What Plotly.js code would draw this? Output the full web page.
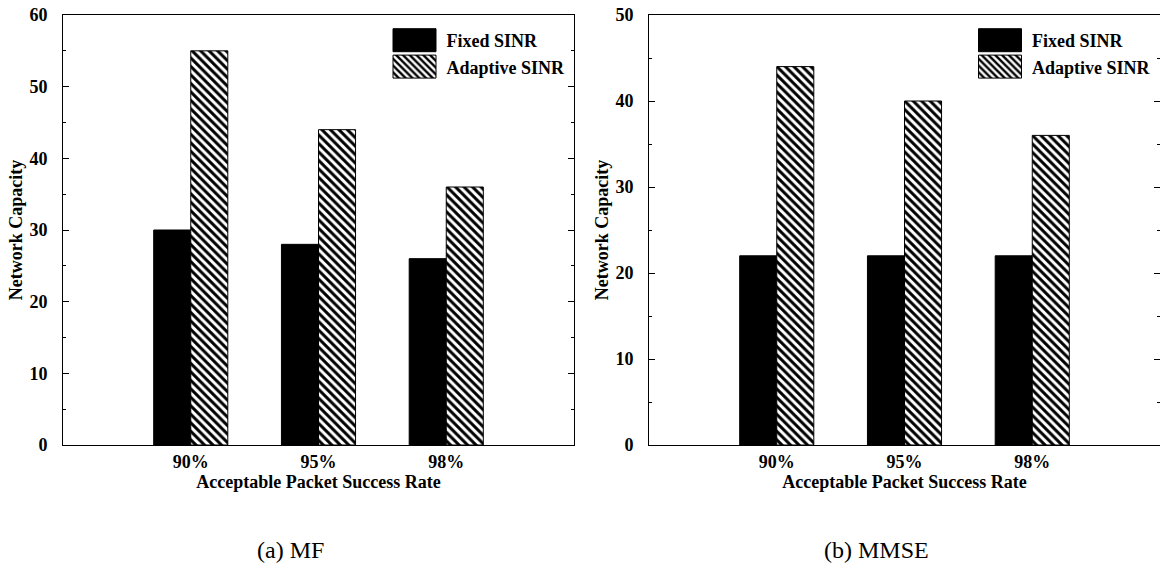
<!DOCTYPE html>
<html><head><meta charset="utf-8">
<script src="https://cdn.plot.ly/plotly-3.0.1.min.js"></script>
<style>html,body{margin:0;padding:0;background:#fff}#chart{width:1160px;height:571px}</style>
</head><body><div id="chart"></div>
<script>
const categories = ["90%", "95%", "98%"];
const mfFixed = [30, 28, 26];
const mfAdaptive = [55, 44, 36];
const mmseFixed = [22, 22, 22];
const mmseAdaptive = [44, 40, 36];
const seriesNames = ["Fixed SINR", "Adaptive SINR"];
const captions = ["(a) MF", "(b) MMSE"];

const FONT = "Liberation Serif";
const hatch = {shape: "\\", fgcolor: "#000", bgcolor: "#fff", size: 6, solidity: 0.5};

function fixedTrace(y, xa, ya, leg) {
  return {type: "bar", x: categories, y: y, name: seriesNames[0], xaxis: xa, yaxis: ya, legend: leg,
    marker: {color: "#000", line: {color: "#000", width: 1}}, hoverinfo: "skip"};
}
function adaptTrace(y, xa, ya, leg) {
  return {type: "bar", x: categories, y: y, name: seriesNames[1], xaxis: xa, yaxis: ya, legend: leg,
    marker: {color: "#fff", pattern: hatch, line: {color: "#000", width: 1}}, hoverinfo: "skip"};
}

const data = [
  fixedTrace(mfFixed, "x", "y", "legend"),
  adaptTrace(mfAdaptive, "x", "y", "legend"),
  fixedTrace(mmseFixed, "x2", "y2", "legend2"),
  adaptTrace(mmseAdaptive, "x2", "y2", "legend2")
];

const W = 1160, H = 571;
const yDom = [(H - 445) / H, (H - 15) / H];
function xAxis(dom, anchor) {
  return {domain: dom, anchor: anchor, range: [-1, 3], type: "category", showline: true, linecolor: "#000", linewidth: 1,
    mirror: true, ticks: "", showgrid: false, zeroline: false,
    tickfont: {family: FONT, size: 18, color: "#000", weight: "bold"},
    title: {text: "<b>Acceptable Packet Success Rate</b>", font: {family: FONT, size: 18, color: "#000"}, standoff: 4}};
}
function yAxis(max, anchor) {
  return {domain: yDom, range: [0, max], anchor: anchor, showline: true, linecolor: "#000", linewidth: 1,
    mirror: "ticks", ticks: "inside", ticklen: 6, tickwidth: 1, tickcolor: "#000", dtick: 10,
    minor: {ticks: "inside", ticklen: 3, dtick: 5, tickcolor: "#000", showgrid: false},
    showgrid: false, zeroline: false, ticklabelstandoff: 11,
    tickfont: {family: FONT, size: 18, color: "#000", weight: "bold"},
    title: {text: "<b>Network Capacity</b>", font: {family: FONT, size: 18, color: "#000"}, standoff: 2}};
}
function legend(x) {
  return {x: x, y: (H - 22) / H, xanchor: "left", yanchor: "top", bgcolor: "rgba(0,0,0,0)", borderwidth: 0,
    font: {family: FONT, size: 18, color: "#000", weight: "bold"}, tracegroupgap: 0, itemwidth: 54,
    traceorder: "normal"};
}

const layout = {
  width: W, height: H, margin: {l: 0, r: 0, t: 0, b: 0},
  paper_bgcolor: "#fff", plot_bgcolor: "#fff",
  barmode: "group", bargap: 0.42, bargroupgap: 0,
  showlegend: true,
  xaxis: xAxis([63 / W, 574 / W], "y"),
  yaxis: yAxis(60, "x"),
  xaxis2: xAxis([649 / W, 1160 / W], "y2"),
  yaxis2: yAxis(50, "x2"),
  legend: legend(382.5 / W),
  legend2: legend(968 / W),
  annotations: [
    {text: captions[0], xref: "paper", yref: "paper", x: 291 / W, y: (H - 550) / H, xanchor: "center", yanchor: "middle",
      showarrow: false, font: {family: FONT, size: 24, color: "#000"}},
    {text: captions[1], xref: "paper", yref: "paper", x: 876 / W, y: (H - 550) / H, xanchor: "center", yanchor: "middle",
      showarrow: false, font: {family: FONT, size: 24, color: "#000"}}
  ]
};

Plotly.newPlot("chart", data, layout, {displayModeBar: false, staticPlot: true}).then(function (gd) {
  // enlarge legend key swatches to the wide boxes of the reference
  gd.querySelectorAll(".legendpoints path").forEach(function (p) {
    p.setAttribute("d", "M21.5,11.5H-21.5V-11.5H21.5Z");
  });
});
</script></body></html>
